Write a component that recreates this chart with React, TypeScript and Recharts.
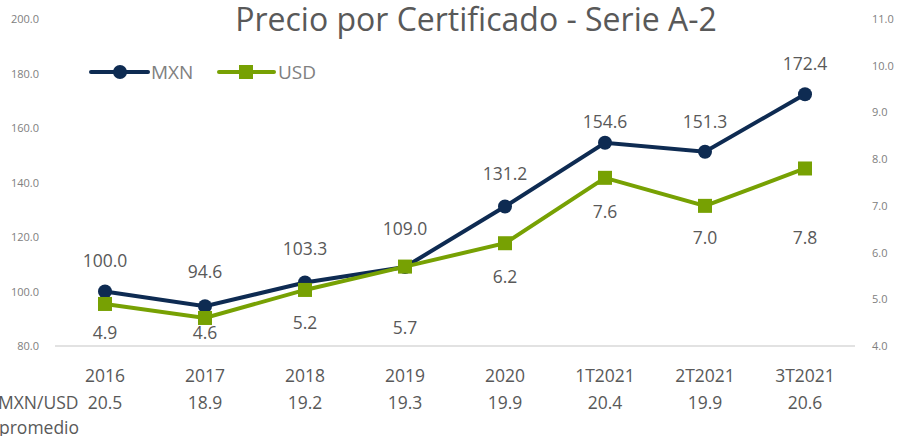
import * as React from "react"
import { LineChart, Line, XAxis, YAxis } from "recharts"

const categories = ["2016", "2017", "2018", "2019", "2020", "1T2021", "2T2021", "3T2021"]
const mxnValues = [100.0, 94.6, 103.3, 109.0, 131.2, 154.6, 151.3, 172.4]
const usdValues = [4.9, 4.6, 5.2, 5.7, 6.2, 7.6, 7.0, 7.8]
const fxAverage = [20.5, 18.9, 19.2, 19.3, 19.9, 20.4, 19.9, 20.6]
const leftTicks = [80, 100, 120, 140, 160, 180, 200]
const rightTicks = [4, 5, 6, 7, 8, 9, 10, 11]

// label nudges, as in the source chart (px, from the point)
const mxnLabelDy = [-31, -34, -34, -38, -32, -21, -30, -30]
const usdLabelDy = [29, 15, 33, 61, 34, 34, 32, 70]

const NAVY = "#0E2B52"
const GREEN = "#77A103"
const FONT = "'Open Sans', sans-serif"
const LABEL = "#595959"
const AXIS = "#808080"

const data = categories.map((c, i) => ({ cat: c, mxn: mxnValues[i], usd: usdValues[i], fx: fxAverage[i] }))

function XTick(props: any) {
  const { x, y, payload, index } = props
  return (
    <g fontFamily={FONT} fontSize={17.5} fill={LABEL}>
      <text x={x} y={y + 36} textAnchor="middle">{payload.value}</text>
      <text x={x} y={y + 63} textAnchor="middle">{fxAverage[index].toFixed(1)}</text>
      {index === 0 && (
        <>
          <text x={-2} y={y + 63}>MXN/USD</text>
          <text x={-1} y={y + 88}>promedio</text>
        </>
      )}
    </g>
  )
}

function LeftTick(props: any) {
  const { y, payload } = props
  return (
    <text x={39} y={y + 4} textAnchor="end" fontFamily={FONT} fontSize={11} fill={AXIS}>
      {payload.value.toFixed(1)}
    </text>
  )
}

function RightTick(props: any) {
  const { y, payload } = props
  return (
    <text x={872} y={y + 4} fontFamily={FONT} fontSize={11} fill={AXIS}>
      {payload.value.toFixed(1)}
    </text>
  )
}

function SquareDot(props: any) {
  const { cx, cy } = props
  return <rect x={cx - 7} y={cy - 7} width={14} height={14} fill={GREEN} />
}

function makeLabel(offsets: number[]) {
  return (p: any) => (
    <text
      key={p.index}
      x={p.x}
      y={p.y + offsets[p.index] + 6}
      textAnchor="middle"
      fontFamily={FONT}
      fontSize={17.5}
      fill={LABEL}
    >
      {Number(p.value).toFixed(1)}
    </text>
  )
}

function ChartLegend() {
  return (
    <svg width={240} height={24} style={{ position: "absolute", left: 88, top: 60, overflow: "visible" }}>
      <line x1={3} y1={12} x2={60} y2={12} stroke={NAVY} strokeWidth={4} strokeLinecap="round" />
      <circle cx={32} cy={12} r={7} fill={NAVY} />
      <text x={63} y={19} fontFamily={FONT} fontSize={19} fill={AXIS}>MXN</text>
      <line x1={131} y1={12} x2={186} y2={12} stroke={GREEN} strokeWidth={4} strokeLinecap="round" />
      <rect x={151} y={5} width={14} height={14} fill={GREEN} />
      <text x={190} y={19} fontFamily={FONT} fontSize={19} fill={AXIS}>USD</text>
    </svg>
  )
}

export default function App() {
  return (
    <div style={{ position: "absolute", left: 0, top: 0, width: 899, height: 436, background: "#fff" }}>
      <LineChart width={899} height={436} data={data} margin={{ top: 19, right: 0, bottom: 0, left: 0 }}>
        <XAxis
          dataKey="cat"
          height={90}
          padding={{ left: 50, right: 50 }}
          tickLine={false}
          tickSize={0}
          tickMargin={0}
          axisLine={{ stroke: "#D9D9D9", strokeWidth: 1.5 }}
          tick={<XTick />}
          interval={0}
        />
        <YAxis
          yAxisId="l"
          width={55}
          domain={[80, 200]}
          ticks={leftTicks}
          axisLine={false}
          tickLine={false}
          tick={<LeftTick />}
        />
        <YAxis
          yAxisId="r"
          orientation="right"
          width={44}
          domain={[4, 11]}
          ticks={rightTicks}
          axisLine={false}
          tickLine={false}
          tick={<RightTick />}
        />
        <Line
          yAxisId="l"
          dataKey="mxn"
          name="MXN"
          stroke={NAVY}
          strokeWidth={4}
          dot={{ r: 7, fill: NAVY, stroke: NAVY, strokeWidth: 0 }}
          label={makeLabel(mxnLabelDy)}
          isAnimationActive={false}
        />
        <Line
          yAxisId="r"
          dataKey="usd"
          name="USD"
          stroke={GREEN}
          strokeWidth={4}
          dot={<SquareDot />}
          label={makeLabel(usdLabelDy)}
          isAnimationActive={false}
        />
      </LineChart>
      <ChartLegend />
      <div
        style={{
          position: "absolute",
          left: 0,
          width: 952,
          top: 3,
          lineHeight: 1,
          textAlign: "center",
          fontFamily: FONT,
          fontSize: 32,
          color: LABEL,
          whiteSpace: "nowrap",
        }}
      >
        Precio por Certificado - Serie A-2
      </div>
    </div>
  )
}
